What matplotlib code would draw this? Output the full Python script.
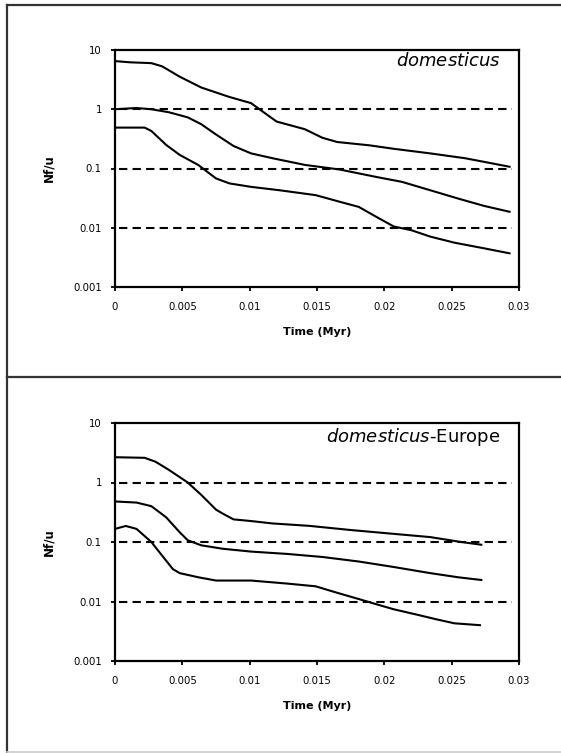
import matplotlib.pyplot as plt
from matplotlib.lines import Line2D

# --- data ---
# top panel: domesticus
dom_t_hi = [0, 0.0011, 0.0027, 0.0035, 0.0048, 0.0064, 0.0085, 0.0101, 0.0107, 0.012, 0.0141, 0.0154, 0.0165, 0.0189, 0.0207, 0.0234, 0.026, 0.0276, 0.0293]
dom_hi = [6.5, 6.2, 6.0, 5.3, 3.55, 2.33, 1.61, 1.27, 1.01, 0.62, 0.46, 0.33, 0.28, 0.246, 0.215, 0.18, 0.149, 0.127, 0.107]
dom_t_mid = [0, 0.0016, 0.0027, 0.004, 0.0054, 0.0064, 0.0075, 0.0088, 0.0101, 0.0117, 0.0141, 0.0167, 0.0194, 0.0213, 0.0234, 0.0255, 0.0274, 0.0293]
dom_mid = [1.0, 1.05, 1.0, 0.89, 0.73, 0.56, 0.375, 0.24, 0.18, 0.149, 0.115, 0.096, 0.072, 0.0596, 0.043, 0.031, 0.0234, 0.0186]
dom_t_lo = [0, 0.0022, 0.0027, 0.0038, 0.0048, 0.0062, 0.0075, 0.0085, 0.0101, 0.0122, 0.0149, 0.0167, 0.0181, 0.0194, 0.0207, 0.022, 0.0234, 0.0252, 0.0274, 0.0293]
dom_lo = [0.49, 0.49, 0.43, 0.25, 0.17, 0.114, 0.068, 0.056, 0.049, 0.043, 0.0355, 0.0274, 0.0225, 0.0153, 0.0105, 0.0091, 0.0071, 0.0056, 0.0045, 0.0037]

# bottom panel: domesticus-Europe
eur_t_hi = [0, 0.0022, 0.003, 0.004, 0.0054, 0.0064, 0.0075, 0.008, 0.0088, 0.0101, 0.0117, 0.0144, 0.0175, 0.0207, 0.0234, 0.0257, 0.0272]
eur_hi = [2.66, 2.6, 2.24, 1.63, 1.0, 0.62, 0.35, 0.30, 0.24, 0.225, 0.205, 0.187, 0.159, 0.137, 0.121, 0.1, 0.09]
eur_t_mid = [0, 0.0016, 0.0027, 0.0038, 0.0048, 0.0054, 0.0064, 0.008, 0.0101, 0.0128, 0.0154, 0.0181, 0.0207, 0.0234, 0.0255, 0.0272]
eur_mid = [0.48, 0.46, 0.40, 0.26, 0.146, 0.107, 0.088, 0.077, 0.069, 0.063, 0.056, 0.047, 0.038, 0.030, 0.0255, 0.023]
eur_t_lo = [0, 0.0008, 0.0016, 0.0027, 0.0035, 0.0043, 0.0048, 0.0062, 0.0075, 0.0101, 0.0128, 0.0149, 0.0165, 0.0181, 0.0194, 0.0207, 0.0223, 0.0239, 0.0252, 0.0271]
eur_lo = [0.166, 0.186, 0.166, 0.1, 0.059, 0.035, 0.030, 0.0255, 0.0225, 0.0225, 0.02, 0.018, 0.014, 0.011, 0.009, 0.0074, 0.0061, 0.005, 0.0043, 0.004]

ref_levels = [1, 0.1, 0.01]
ref_span = [0.0003, 0.0295]

x_ticks = [0, 0.005, 0.01, 0.015, 0.02, 0.025, 0.03]
x_labels = ['0', '0.005', '0.01', '0.015', '0.02', '0.025', '0.03']
y_ticks = [0.001, 0.01, 0.1, 1, 10]
y_labels = ['0.001', '0.01', '0.1', '1', '10']

plt.rcParams['font.family'] = ['DejaVu Sans']

fig = plt.figure(figsize=(5.61, 7.53), dpi=100)

# outer panel frames
frame = dict(color='#333333', lw=1.6, transform=fig.transFigure)
fig.add_artist(Line2D([7/561, 7/561], [1 - 5/753, 1 - 752/753], **frame))
fig.add_artist(Line2D([7/561, 1], [1 - 5/753, 1 - 5/753], **frame))
fig.add_artist(Line2D([7/561, 1], [1 - 377/753, 1 - 377/753], **frame))
fig.add_artist(Line2D([7/561, 1], [1 - 752/753, 1 - 752/753], color='#cccccc', lw=1.2, transform=fig.transFigure))


def make_panel(rect, curves, title, title_y):
    ax = fig.add_axes(rect)
    for t, v in curves:
        ax.plot(t, v, color='black', lw=1.5)
    for lev in ref_levels:
        ax.plot(ref_span, [lev, lev], color='black', lw=1.5, linestyle=(0, (4, 2.5)))
    ax.set_yscale('log')
    ax.set_xlim(0, 0.03)
    ax.set_ylim(0.001, 10)
    ax.set_xticks(x_ticks)
    ax.set_xticklabels(x_labels)
    ax.set_yticks(y_ticks)
    ax.set_yticklabels(y_labels)
    ax.minorticks_off()
    ax.tick_params(labelsize=7.3, length=3, width=1.3, direction='out')
    ax.tick_params(axis='x', pad=7.5)
    ax.tick_params(axis='y', pad=6.5)
    for s in ax.spines.values():
        s.set_linewidth(1.6)
    ax.set_xlabel('Time (Myr)', fontsize=8, fontweight='bold')
    ax.xaxis.set_label_coords(0.5, -0.17)
    ax.set_ylabel('Nf/u', fontsize=8.5, fontweight='bold')
    ax.yaxis.set_label_coords(-0.148, 0.5)
    ax.text(0.955, title_y, title, transform=ax.transAxes, ha='right', va='center',
            fontsize=13)
    return ax


make_panel([115/561, (753-287)/753, 404/561, 237/753],
           [(dom_t_hi, dom_hi), (dom_t_mid, dom_mid), (dom_t_lo, dom_lo)],
           r'$\it{domesticus}$', 0.955)
make_panel([115/561, (753-661)/753, 404/561, 238/753],
           [(eur_t_hi, eur_hi), (eur_t_mid, eur_mid), (eur_t_lo, eur_lo)],
           r'$\it{domesticus}$-Europe', 0.94)

fig.savefig('out.png', dpi=100)
